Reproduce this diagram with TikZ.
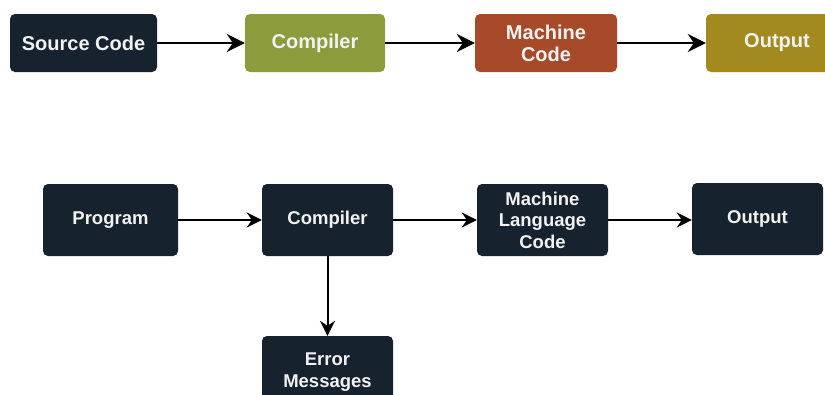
\documentclass[tikz,border=0pt]{standalone}
\usepackage{fontspec}
\setmainfont{Liberation Sans}
\usetikzlibrary{arrows.meta}
\definecolor{navy}{HTML}{16222E}
\definecolor{olivegreen}{HTML}{8C9C3C}
\definecolor{rust}{HTML}{A64A2A}
\definecolor{mustard}{HTML}{A28A1E}
\definecolor{label}{HTML}{F2F2F2}
\tikzset{
  box/.style={rounded corners=5pt, text=label, align=center,
    font=\fontsize{20}{22}\selectfont\bfseries, inner sep=0pt},
  topbox/.style={box, minimum height=58pt},
  lowbox/.style={box, fill=navy, minimum width=131pt, minimum height=72pt,
    font=\fontsize{18.5}{21.5}\selectfont\bfseries},
  toparrow/.style={line width=2.4pt, -{Stealth[length=18pt,width=18pt,inset=6pt]}},
  lowarrow/.style={line width=2pt, -{Stealth[length=15pt,width=15pt,inset=5pt]}}
}
\begin{document}
\begin{tikzpicture}[x=1pt, y=-1pt]
  \useasboundingbox (0,0) rectangle (825,394);
  \clip (0,0) rectangle (825,394);
  \fill[white] (0,0) rectangle (825,394);

  % compilation pipeline, coloured
  \node[topbox, fill=navy, minimum width=147pt] (src) at (83.5,43) {Source Code};
  \node[topbox, fill=olivegreen, minimum width=140pt] (cmp) at (315,43) {Compiler};
  \node[topbox, fill=rust, minimum width=142pt] (mc) at (546,43) {Machine\\Code};
  \node[topbox, fill=mustard, minimum width=142pt] (out) at (777,43) {Output};

  \draw[toparrow] (src) -- (cmp);
  \draw[toparrow] (cmp) -- (mc);
  \draw[toparrow] (mc) -- (out);

  % compilation pipeline with error branch
  \node[lowbox, minimum width=135pt] (prog) at (110.5,220) {Program};
  \node[lowbox] (cmp2) at (327.5,220) {Compiler};
  \node[lowbox] (mlc) at (542.5,220) {Machine\\Language\\Code};
  \node[lowbox] (out2) at (757.5,219) {Output};
  \node[lowbox] (err) at (327.5,372) {Error\\Messages};

  \draw[lowarrow] (prog) -- (cmp2);
  \draw[lowarrow] (cmp2) -- (mlc);
  \draw[lowarrow] (mlc.east) -- (out2.west |- mlc.east);
  \draw[lowarrow] (cmp2) -- (err);
\end{tikzpicture}
\end{document}
